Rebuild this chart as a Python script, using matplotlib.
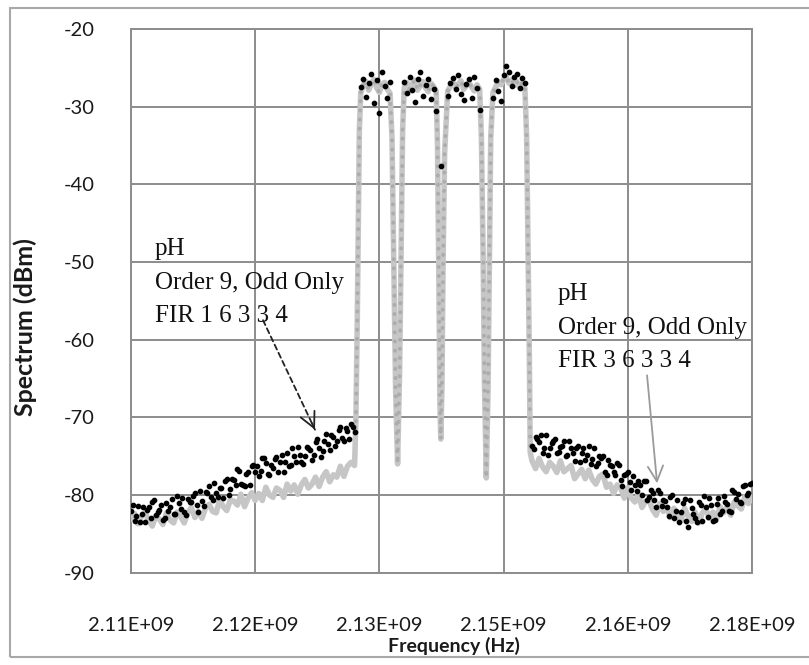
import numpy as np
import matplotlib
matplotlib.use("Agg")
import matplotlib.pyplot as plt
from matplotlib.patches import Rectangle

# ---------------- data ----------------
START_FREQ_HZ = 2.106e9   # first analyser bin; offsets below are in MHz

# ---- pH, Order 9, Odd Only, FIR 1 6 3 3 4 (black dots) ----
FREQ_BLACK_MHZ = [
    # left floor
    0.0, 0.2, 0.4, 0.6, 0.8, 1.0, 1.2, 1.4, 1.6, 1.8,
    2.0, 2.2, 2.4, 2.6, 2.8, 3.0, 3.2, 3.4, 3.6, 3.8,
    4.0, 4.2, 4.4, 4.6, 4.8, 5.0, 5.2, 5.4, 5.6, 5.8,
    6.0, 6.2, 6.4, 6.6, 6.8, 7.0, 7.2, 7.4, 7.6, 7.8,
    8.0, 8.2, 8.4, 8.6, 8.8, 9.0, 9.2, 9.4, 9.6, 9.8,
    10.0, 10.2, 10.4, 10.6, 10.8, 11.0, 11.2, 11.4, 11.6, 11.8,
    12.0, 12.2, 12.4, 12.6, 12.8, 13.0, 13.2, 13.4, 13.6, 13.8,
    14.0, 14.2, 14.4, 14.6, 14.8, 15.0, 15.2, 15.4, 15.6, 15.8,
    16.0, 16.2, 16.4, 16.6, 16.8, 17.0, 17.2, 17.4, 17.6, 17.8,
    18.0, 18.2, 18.4, 18.6, 18.8, 19.0, 19.2, 19.4, 19.6, 19.8,
    20.0, 20.2, 20.4, 20.6, 20.8, 21.0, 21.2, 21.4, 21.6, 21.8,
    22.0, 22.2, 22.4, 22.6, 22.8, 23.0, 23.2, 23.4, 23.6, 23.8,
    24.0, 24.2, 24.4, 24.6, 24.8, 25.0, 25.2,
    # carrier tops
    25.9, 26.2, 26.5, 26.8, 27.1, 27.4, 27.7, 28.0, 28.3, 28.6, 28.9, 29.2,
    30.8, 31.1, 31.4, 31.7, 32.0, 32.3, 32.6, 32.9, 33.2, 33.5, 33.8, 34.1, 34.4,
    34.92,
    35.7, 36.0, 36.3, 36.6, 36.9, 37.2, 37.5, 37.8, 38.1, 38.4, 38.7, 39.0, 39.3,
    40.8, 41.1, 41.4, 41.7, 42.0, 42.3, 42.6, 42.9, 43.2, 43.5, 43.8, 44.1, 44.4,
    # right floor
    45.2, 45.4, 45.6, 45.8, 46.0, 46.2, 46.4, 46.6, 46.8, 47.0,
    47.2, 47.4, 47.6, 47.8, 48.0, 48.2, 48.4, 48.6, 48.8, 49.0,
    49.2, 49.4, 49.6, 49.8, 50.0, 50.2, 50.4, 50.6, 50.8, 51.0,
    51.2, 51.4, 51.6, 51.8, 52.0, 52.2, 52.4, 52.6, 52.8, 53.0,
    53.2, 53.4, 53.6, 53.8, 54.0, 54.2, 54.4, 54.6, 54.8, 55.0,
    55.2, 55.4, 55.6, 55.8, 56.0, 56.2, 56.4, 56.6, 56.8, 57.0,
    57.2, 57.4, 57.6, 57.8, 58.0, 58.2, 58.4, 58.6, 58.8, 59.0,
    59.2, 59.4, 59.6, 59.8, 60.0, 60.2, 60.4, 60.6, 60.8, 61.0,
    61.2, 61.4, 61.6, 61.8, 62.0, 62.2, 62.4, 62.6, 62.8, 63.0,
    63.2, 63.4, 63.6, 63.8, 64.0, 64.2, 64.4, 64.6, 64.8, 65.0,
    65.2, 65.4, 65.6, 65.8, 66.0, 66.2, 66.4, 66.6, 66.8, 67.0,
    67.2, 67.4, 67.6, 67.8, 68.0, 68.2, 68.4, 68.6, 68.8, 69.0,
    69.2, 69.4, 69.6, 69.8, 70.0,
]
SPEC_BLACK_DBM = [
    # left floor
    -82.0, -81.3, -83.4, -82.7, -81.4, -83.5, -82.4, -81.6, -83.5, -81.9,
    -81.6, -83.0, -80.9, -80.6, -82.6, -82.2, -81.9, -81.3, -83.2, -83.0,
    -81.0, -82.1, -81.6, -80.5, -82.5, -82.4, -80.1, -81.0, -81.8, -80.4,
    -82.2, -82.6, -80.5, -80.9, -80.9, -80.1, -79.7, -81.3, -82.2, -79.5,
    -80.8, -81.4, -79.6, -79.7, -78.8, -80.2, -80.7, -78.5, -79.8, -80.3,
    -79.1, -79.1, -80.4, -78.2, -78.0, -80.0, -79.2, -78.0, -78.1, -78.7,
    -76.7, -76.9, -78.6, -78.7, -78.9, -77.3, -77.1, -78.7, -76.3, -76.1,
    -77.0, -76.3, -77.6, -76.9, -75.3, -75.2, -75.9, -77.3, -77.4, -76.1,
    -76.5, -75.4, -75.1, -77.1, -75.8, -74.8, -77.1, -75.8, -74.6, -76.3,
    -76.1, -74.0, -75.0, -75.7, -73.8, -74.8, -75.8, -76.0, -75.0, -73.8,
    -73.9, -74.2, -75.5, -74.9, -73.2, -72.8, -73.9, -75.1, -74.4, -73.0,
    -72.1, -73.5, -74.2, -72.3, -72.5, -73.7, -73.0, -71.6, -71.3, -72.7,
    -73.1, -71.4, -71.7, -72.8, -70.9, -71.2, -71.9,
    # carrier tops
    -27.5, -26.4, -28.8, -27.0, -25.8, -29.6, -26.6, -30.8, -25.5, -27.3, -28.9, -26.8,
    -26.8, -28.3, -26.2, -27.9, -29.4, -26.5, -25.6, -28.7, -27.2, -26.4, -29.0, -27.7, -30.6,
    -37.6,
    -28.6, -27.0, -26.3, -27.8, -25.9, -28.4, -29.2, -27.1, -26.5, -28.9, -26.2, -27.6, -30.5,
    -28.9, -26.6, -28.0, -29.3, -26.0, -24.8, -25.5, -27.4, -26.2, -25.8, -27.6, -26.3, -27.0,
    # right floor
    -73.7, -74.1, -72.5, -72.8, -73.2, -72.3, -74.6, -73.9, -72.3, -74.8,
    -73.9, -73.3, -73.1, -72.8, -74.6, -74.5, -73.8, -73.7, -73.0, -75.0,
    -74.8, -73.0, -73.9, -74.6, -75.6, -74.0, -73.7, -75.7, -74.6, -74.0,
    -75.5, -74.8, -73.7, -76.0, -75.4, -73.9, -76.3, -75.9, -75.0, -75.2,
    -75.0, -77.1, -77.4, -75.5, -76.1, -76.3, -77.1, -77.4, -75.9, -76.1,
    -78.1, -78.8, -77.4, -77.3, -77.0, -78.3, -79.3, -77.5, -78.7, -79.5,
    -78.2, -78.7, -80.0, -78.2, -78.2, -80.6, -80.2, -79.3, -79.7, -80.6,
    -81.5, -79.3, -79.8, -81.4, -80.7, -80.8, -81.6, -82.7, -80.2, -80.0,
    -83.0, -82.0, -80.7, -83.5, -82.2, -81.0, -80.5, -83.3, -84.1, -80.6,
    -81.7, -82.5, -83.0, -83.5, -80.9, -81.3, -83.3, -80.1, -81.6, -82.8,
    -80.4, -81.3, -83.4, -83.2, -81.1, -80.4, -82.4, -82.0, -80.1, -80.9,
    -81.2, -82.1, -82.2, -79.3, -79.6, -80.5, -79.9, -80.9, -81.0, -78.9,
    -78.7, -80.0, -79.7, -78.6, -78.5,
]

# ---- pH, Order 9, Odd Only, FIR 3 6 3 3 4 (grey trace) ----
FREQ_GREY_MHZ = [
    # left floor
    0.0, 0.4, 0.8, 1.2, 1.6, 2.0, 2.4, 2.8, 3.2, 3.6,
    4.0, 4.4, 4.8, 5.2, 5.6, 6.0, 6.4, 6.8, 7.2, 7.6,
    8.0, 8.4, 8.8, 9.2, 9.6, 10.0, 10.4, 10.8, 11.2, 11.6,
    12.0, 12.4, 12.8, 13.2, 13.6, 14.0, 14.4, 14.8, 15.2, 15.6,
    16.0, 16.4, 16.8, 17.2, 17.6, 18.0, 18.4, 18.8, 19.2, 19.6,
    20.0, 20.4, 20.8, 21.2, 21.6, 22.0, 22.4, 22.8, 23.2, 23.6,
    24.0, 24.4, 24.8, 25.2,
    # carrier 1
    25.35, 25.5, 25.62, 25.74,
    25.9, 26.2, 26.5, 26.8, 27.1, 27.4, 27.7, 28.0, 28.3, 28.6, 28.9, 29.2,
    29.42, 29.62, 29.82, 30.05, 30.28, 30.45, 30.62,
    # carrier 2
    30.8, 31.1, 31.4, 31.7, 32.0, 32.3, 32.6, 32.9, 33.2, 33.5, 33.8, 34.1, 34.4,
    34.55, 34.7, 34.82, 34.92, 35.05, 35.18, 35.35,
    # carrier 3
    35.7, 36.0, 36.3, 36.6, 36.9, 37.2, 37.5, 37.8, 38.1, 38.4, 38.7, 39.0, 39.3,
    39.5, 39.7, 39.85, 40.05, 40.25, 40.4, 40.55,
    # carrier 4
    40.8, 41.1, 41.4, 41.7, 42.0, 42.3, 42.6, 42.9, 43.2, 43.5, 43.8, 44.1, 44.4,
    44.6, 44.75, 44.9, 45.0,
    # right floor
    45.2, 45.6, 46.0, 46.4, 46.8, 47.2, 47.6, 48.0, 48.4, 48.8,
    49.2, 49.6, 50.0, 50.4, 50.8, 51.2, 51.6, 52.0, 52.4, 52.8,
    53.2, 53.6, 54.0, 54.4, 54.8, 55.2, 55.6, 56.0, 56.4, 56.8,
    57.2, 57.6, 58.0, 58.4, 58.8, 59.2, 59.6, 60.0, 60.4, 60.8,
    61.2, 61.6, 62.0, 62.4, 62.8, 63.2, 63.6, 64.0, 64.4, 64.8,
    65.2, 65.6, 66.0, 66.4, 66.8, 67.2, 67.6, 68.0, 68.4, 68.8,
    69.2, 69.6, 70.0,
]
SPEC_GREY_DBM = [
    -83.2, -82.4, -83.7, -82.7, -82.3, -83.3, -84.0, -82.7, -83.1, -83.8,
    -82.3, -83.2, -83.6, -82.2, -82.8, -83.6, -82.3, -81.6, -82.9, -82.1,
    -83.0, -81.7, -81.2, -82.1, -82.3, -80.6, -81.5, -82.0, -80.6, -80.8,
    -81.3, -79.9, -81.5, -80.4, -79.7, -80.7, -79.8, -80.7, -79.0, -80.0,
    -80.3, -79.1, -79.4, -80.3, -78.6, -79.5, -78.7, -79.9, -78.7, -78.0,
    -79.1, -78.6, -77.7, -78.9, -77.7, -77.0, -78.3, -77.4, -77.7, -76.3,
    -77.6, -76.3, -75.8, -76.2,
    -70.5, -58.0, -45.0, -33.0,
    -28.2, -27.2, -26.8, -27.9, -27.0, -26.5, -27.6, -28.2, -27.1, -26.9, -27.8, -28.3,
    -34.0, -50.0, -66.0, -76.0, -64.0, -48.0, -33.0,
    -27.5, -26.9, -27.8, -27.1, -26.6, -27.9, -27.3, -26.8, -27.6, -28.1, -27.0, -27.4, -28.0,
    -35.0, -52.0, -68.0, -72.8, -66.0, -50.0, -36.0,
    -28.0, -27.4, -26.9, -27.6, -27.1, -26.7, -27.8, -27.3, -26.9, -27.5, -28.0, -27.2, -27.8,
    -34.0, -50.0, -66.0, -77.8, -66.0, -50.0, -34.0,
    -28.2, -27.5, -26.8, -27.2, -26.5, -26.2, -27.0, -26.6, -27.3, -26.8, -27.5, -26.9, -27.6,
    -34.0, -48.0, -62.0, -74.5,
    -75.6, -76.6, -75.3, -76.4, -77.0, -75.8, -76.3, -77.1, -75.6, -77.0,
    -76.6, -76.2, -77.9, -77.3, -76.7, -77.9, -76.8, -78.0, -78.6, -77.6,
    -77.3, -79.0, -78.6, -79.8, -78.7, -79.1, -80.4, -79.1, -80.4, -80.9,
    -79.9, -81.6, -80.8, -80.7, -81.9, -82.6, -81.1, -82.1, -81.7, -82.9,
    -81.7, -82.7, -83.3, -81.7, -82.7, -83.4, -82.2, -83.6, -82.3, -81.8,
    -83.0, -82.2, -83.1, -81.5, -82.3, -81.5, -82.6, -80.9, -81.4, -81.8,
    -80.2, -81.1, -80.2,
]

Y_TICKS = [-90, -80, -70, -60, -50, -40, -30, -20]
X_TICKS_HZ = [2.106e9, 2.120e9, 2.134e9, 2.148e9, 2.162e9, 2.176e9]
X_TICK_LABELS = ["2.11E+09", "2.12E+09", "2.13E+09", "2.15E+09", "2.16E+09", "2.18E+09"]
X_LABEL = "Frequency (Hz)"
Y_LABEL = "Spectrum (dBm)"

NOTE_LEFT_LINES = ["pH", "Order 9, Odd Only", "FIR 1 6 3 3 4"]
NOTE_RIGHT_LINES = ["pH", "Order 9, Odd Only", "FIR 3 6 3 3 4"]
NOTE_LEFT_AT = (2.1087e9, -49.1)
NOTE_RIGHT_AT = (2.1541e9, -54.9)
ARROW_LEFT_FROM = (2.12088e9, -57.5)
ARROW_LEFT_TO = (2.12674e9, -71.6)
ARROW_RIGHT_FROM = (2.16417e9, -64.6)
ARROW_RIGHT_TO = (2.1653e9, -78.5)

assert len(FREQ_BLACK_MHZ) == len(SPEC_BLACK_DBM)
assert len(FREQ_GREY_MHZ) == len(SPEC_GREY_DBM)

f_black = START_FREQ_HZ + np.array(FREQ_BLACK_MHZ) * 1e6
s_black = np.array(SPEC_BLACK_DBM, dtype=float)
f_grey = START_FREQ_HZ + np.array(FREQ_GREY_MHZ) * 1e6
s_grey = np.array(SPEC_GREY_DBM, dtype=float)
in_band = (np.array(FREQ_GREY_MHZ) > 25.2) & (np.array(FREQ_GREY_MHZ) < 45.2)

# ---------------- figure ----------------
W, H = 809, 665
fig = plt.figure(figsize=(W / 100, H / 100), dpi=100)
fig.patch.set_facecolor("white")

# outer chart-area frame
fig.add_artist(Rectangle((10 / W, 1 - 657 / H), (830 - 10) / W, (657 - 8) / H,
                         transform=fig.transFigure, fill=False,
                         edgecolor="#a8a8a8", linewidth=1.5))

L, R, T, B = 131, 752, 28.8, 572.7
ax = fig.add_axes([L / W, 1 - B / H, (R - L) / W, (B - T) / H])

GRID = "#8c8c8c"
ax.set_xlim(X_TICKS_HZ[0], X_TICKS_HZ[-1])
ax.set_ylim(Y_TICKS[0], Y_TICKS[-1])
ax.set_xticks(X_TICKS_HZ)
ax.set_xticklabels(X_TICK_LABELS)
ax.set_yticks(Y_TICKS)
ax.set_yticklabels([str(v) for v in Y_TICKS])
ax.grid(True, color=GRID, linewidth=1.4)
ax.set_axisbelow(True)
for s in ax.spines.values():
    s.set_color(GRID)
    s.set_linewidth(1.4)
ax.tick_params(axis="both", length=0, labelsize=14.5, colors="#1a1a1a")
ax.tick_params(axis="y", pad=26)
ax.tick_params(axis="x", pad=32)
for lab in ax.get_xticklabels() + ax.get_yticklabels():
    lab.set_fontfamily("Lato")

# grey trace: light solid body, darker round beads along the carrier skirts
ax.plot(f_grey, s_grey, color="#c6c6c6", linewidth=4.0, zorder=3,
        solid_joinstyle="round", solid_capstyle="round")
ax.plot(f_grey[in_band], s_grey[in_band], color="#acacac", linewidth=2.8,
        zorder=3, linestyle=(0, (0.05, 2.3)), dash_capstyle="round")
# black dots
ax.plot(f_black, s_black, linestyle="none", marker="o", markersize=3.1,
        color="black", zorder=4)

ax.set_xlabel(X_LABEL, fontfamily="Lato", fontweight="bold", fontsize=14,
              color="#1a1a1a")
ax.xaxis.set_label_coords(0.52, -(637 - B) / (B - T))
ax.set_ylabel(Y_LABEL, fontfamily="Lato", fontweight="bold", fontsize=18,
              color="#1a1a1a")
ax.yaxis.set_label_coords(-(L - 37) / (R - L), (B - 327) / (B - T))

# annotations
STEP_PT = 24.3
for i, line in enumerate(NOTE_LEFT_LINES):
    ax.annotate(line, xy=NOTE_LEFT_AT, xycoords="data",
                xytext=(0, -i * STEP_PT), textcoords="offset points",
                va="baseline", ha="left", fontfamily="Liberation Serif",
                fontsize=18, color="#111111", zorder=6)
for i, line in enumerate(NOTE_RIGHT_LINES):
    ax.annotate(line, xy=NOTE_RIGHT_AT, xycoords="data",
                xytext=(0, -i * STEP_PT), textcoords="offset points",
                va="baseline", ha="left", fontfamily="Liberation Serif",
                fontsize=18, color="#111111", zorder=6)

# left arrow: dashed shaft + solid open head
ax.annotate("", xy=ARROW_LEFT_TO, xytext=ARROW_LEFT_FROM,
            arrowprops=dict(arrowstyle="-", color="#222222", lw=1.3,
                            linestyle=(0, (3, 2)), shrinkA=0, shrinkB=0),
            zorder=6)
head_from = (ARROW_LEFT_TO[0] + 0.06 * (ARROW_LEFT_FROM[0] - ARROW_LEFT_TO[0]),
             ARROW_LEFT_TO[1] + 0.06 * (ARROW_LEFT_FROM[1] - ARROW_LEFT_TO[1]))
ax.annotate("", xy=ARROW_LEFT_TO, xytext=head_from,
            arrowprops=dict(arrowstyle="->,head_length=1.1,head_width=0.55",
                            color="#222222", lw=1.3, shrinkA=0, shrinkB=0),
            zorder=6)
# right arrow: thin grey
ax.annotate("", xy=ARROW_RIGHT_TO, xytext=ARROW_RIGHT_FROM,
            arrowprops=dict(arrowstyle="->,head_length=1.1,head_width=0.55",
                            color="#9a9a9a", lw=1.3, shrinkA=0, shrinkB=0),
            zorder=6)

fig.savefig("out.png", dpi=100)
